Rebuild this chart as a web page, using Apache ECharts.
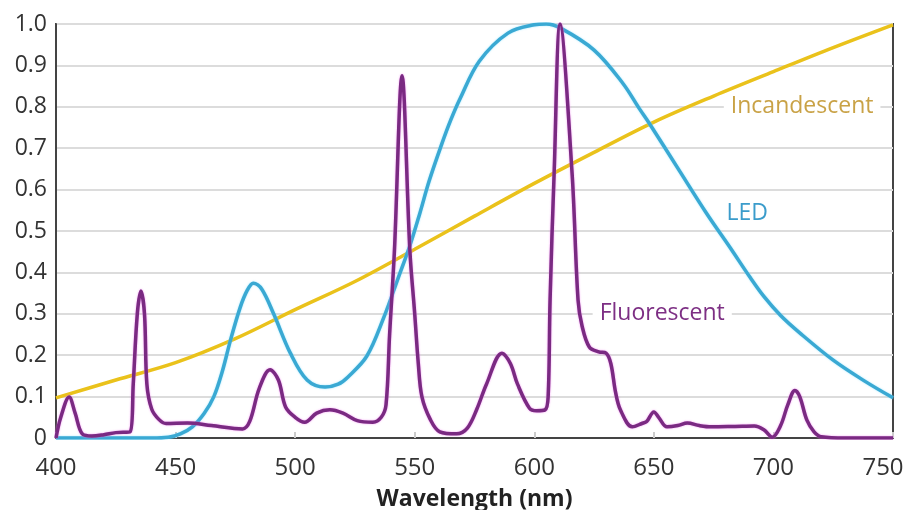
<!DOCTYPE html>
<html>
<head>
<meta charset="utf-8">
<script src="https://cdn.jsdelivr.net/npm/echarts@6/dist/echarts.min.js"></script>
<style>
  html, body { margin: 0; padding: 0; background: #fff; }
  #chart { width: 907px; height: 510px; }
</style>
</head>
<body>
<div id="chart"></div>
<script>
// wavelength (nm), relative intensity
const incandescent = [
  [400, 0.097], [425, 0.14], [450, 0.182], [475, 0.24], [500, 0.31], [525, 0.378],
  [550, 0.456], [575, 0.536], [600, 0.615], [625, 0.69], [650, 0.763], [675, 0.826],
  [700, 0.885], [725, 0.943], [750, 0.998]
];

const led = [
  [400, 0], [440, 0], [447, 0.002], [452, 0.01], [457, 0.027], [462, 0.06], [466, 0.1],
  [469.5, 0.16], [473, 0.237], [477, 0.315], [480, 0.357], [482.5, 0.374], [486, 0.36],
  [491, 0.3], [498, 0.205], [505, 0.14], [512.5, 0.123], [518, 0.13], [522, 0.147],
  [530, 0.198], [537, 0.29], [543, 0.385], [548, 0.465], [552, 0.54], [556, 0.62],
  [561, 0.705], [565, 0.767], [569, 0.82], [577, 0.91], [589, 0.978], [600, 0.998],
  [605, 1.0], [611, 0.99], [625, 0.937], [637, 0.857], [644, 0.795], [648, 0.761],
  [660, 0.652], [672, 0.543], [682, 0.459], [690, 0.39], [696, 0.342], [703, 0.296],
  [711, 0.254], [725, 0.188], [738, 0.138], [750, 0.097]
];

const fluorescent = [
  [400, 0], [402, 0.05], [405.5, 0.099], [408, 0.06], [411, 0.01], [415, 0.005],
  [420, 0.008], [425, 0.013], [431, 0.015], [432.3, 0.13], [434, 0.3], [435.5, 0.355],
  [437, 0.3], [438, 0.13], [440, 0.07], [443, 0.045], [446, 0.035], [455, 0.036],
  [465, 0.03], [478, 0.022], [481, 0.04], [485, 0.12], [489.5, 0.165], [493, 0.14],
  [496, 0.075], [500, 0.05], [504, 0.038], [509, 0.06], [514.5, 0.068], [520, 0.06],
  [526, 0.042], [532.5, 0.038], [536, 0.05], [538, 0.08], [539.5, 0.25], [541.5, 0.45],
  [544.7, 0.875], [548, 0.45], [550, 0.3], [551.5, 0.18], [553, 0.1], [556.5, 0.045],
  [560.5, 0.015], [567.5, 0.01], [572, 0.024], [576, 0.07], [580, 0.13], [586.5, 0.205],
  [590, 0.18], [593, 0.13], [598, 0.072], [601, 0.066], [604.5, 0.068], [605.8, 0.1],
  [606.6, 0.333], [608.3, 0.64], [610.8, 1.0], [615.8, 0.64], [618.3, 0.333], [620, 0.27],
  [623, 0.22], [627, 0.208], [630, 0.205], [632, 0.18], [634, 0.11], [636, 0.068],
  [641, 0.027], [645, 0.035], [647, 0.04], [650, 0.063], [652, 0.05], [655.5, 0.027],
  [660, 0.03], [664, 0.036], [669, 0.03], [674, 0.027], [684, 0.028], [692, 0.029],
  [696, 0.02], [699.5, 0.002], [703, 0.03], [706, 0.08], [709, 0.115], [711, 0.1],
  [714, 0.043], [717, 0.015], [720, 0.003], [730, 0], [750, 0]
];

const xTicks = [400, 450, 500, 550, 600, 650, 700, 750];
const seriesNames = ['Incandescent', 'LED', 'Fluorescent'];
const lineColors = ['#eac21b', '#3aa9d3', '#7a2a82'];
const nameColors = ['#c9a246', '#3b9ccb', '#7d2f84'];
// where each curve's name is written, in data units
const nameCoords = [[712, 0.802], [689, 0.543], [653.5, 0.302]];

function nameMark(i) {
  return {
    symbol: 'rect',
    symbolSize: 1,
    silent: true,
    itemStyle: { color: 'rgba(0,0,0,0)' },
    data: [{ coord: nameCoords[i], value: seriesNames[i] }],
    label: {
      show: true,
      position: 'inside',
      formatter: seriesNames[i],
      color: nameColors[i],
      fontFamily: 'Open Sans',
      fontSize: 23,
      backgroundColor: '#fff',
      padding: [0, 7],
      lineHeight: 22
    }
  };
}

const chart = echarts.init(document.getElementById('chart'), null, { renderer: 'canvas' });

chart.setOption({
  animation: false,
  grid: {
    left: 56, right: 14, top: 24, bottom: 72,
    outerBoundsMode: 'none',
    show: true, borderColor: '#444', borderWidth: 2
  },
  xAxis: {
    type: 'value',
    min: 400, max: 750, interval: 50,
    name: 'Wavelength (nm)',
    nameLocation: 'middle',
    nameGap: 50,
    nameTextStyle: { fontFamily: 'Open Sans', fontWeight: 'bold', fontSize: 23, color: '#222' },
    axisLine: { lineStyle: { color: '#444', width: 2 } },
    axisTick: { show: true, inside: true, length: 6, lineStyle: { color: '#ccc', width: 2 } },
    axisLabel: {
      margin: 18, fontFamily: 'Open Sans', fontSize: 24, color: '#333',
      formatter: v => {
        if (!xTicks.includes(v)) return '';
        // last label is nudged left so it stays inside the picture
        return v === 750 ? '{last|' + v + '}' : String(v);
      },
      rich: {
        last: { fontFamily: 'Open Sans', fontSize: 24, color: '#333', padding: [0, 20, 0, 0] }
      }
    },
    splitLine: { show: false }
  },
  yAxis: {
    type: 'value',
    min: 0, max: 1, interval: 0.1,
    axisLine: { show: true, lineStyle: { color: '#444', width: 2 } },
    axisTick: { show: false },
    axisLabel: {
      margin: 9, fontFamily: 'Open Sans', fontSize: 23, color: '#333',
      formatter: v => v === 0 ? '0' : v.toFixed(1)
    },
    splitLine: { lineStyle: { color: '#dcdcdc', width: 2 } }
  },
  series: [
    {
      name: seriesNames[0], type: 'line', data: incandescent,
      smooth: 0.35, showSymbol: false,
      lineStyle: { color: lineColors[0], width: 3.5 },
      markPoint: nameMark(0), z: 2
    },
    {
      name: seriesNames[1], type: 'line', data: led,
      smooth: 0.35, showSymbol: false,
      lineStyle: { color: lineColors[1], width: 3.5, shadowColor: 'rgba(120,220,255,0.7)', shadowBlur: 2 },
      markPoint: nameMark(1), z: 3
    },
    {
      name: seriesNames[2], type: 'line', data: fluorescent,
      smooth: 0.35, showSymbol: false,
      lineStyle: { color: lineColors[2], width: 3.5, shadowColor: 'rgba(240,120,240,0.8)', shadowBlur: 2 },
      markPoint: nameMark(2), z: 4
    }
  ]
});
</script>
</body>
</html>
